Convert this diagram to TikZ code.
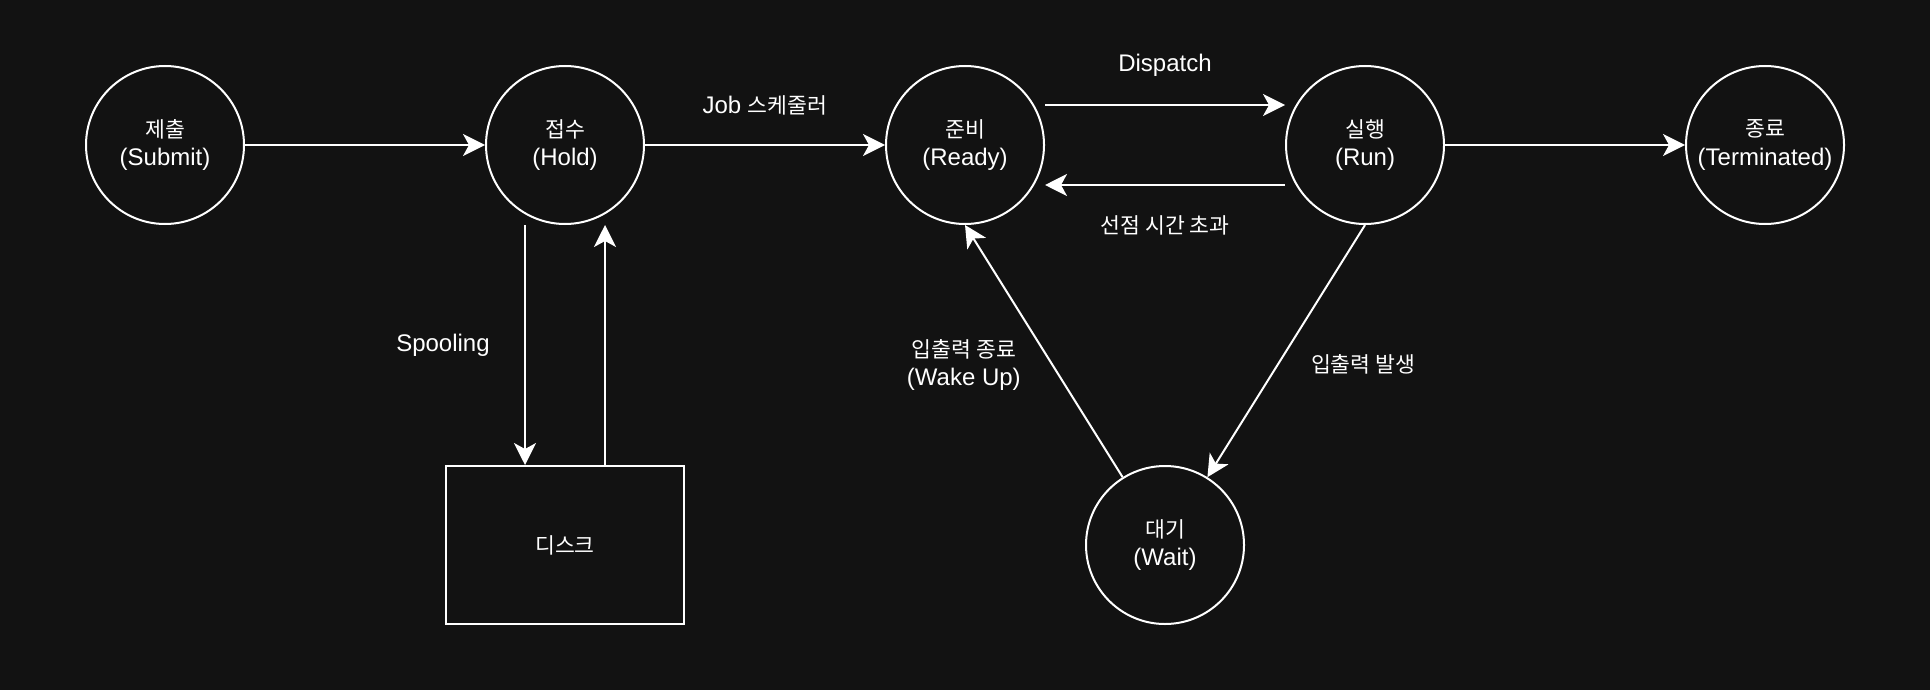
\documentclass[tikz,border=0pt]{standalone}
\usepackage{fontspec}
\setmainfont{Liberation Sans}
\newfontfamily\kr[Scale=0.9]{Noto Sans CJK KR}
\usetikzlibrary{positioning,arrows.meta}
\definecolor{bgc}{RGB}{18,18,18}
\tikzset{
  st/.style={circle,draw=white,line width=1pt,minimum size=79pt,inner sep=0pt,align=center,text=white,font=\fontsize{12}{14.4}\selectfont},
  dsk/.style={rectangle,draw=white,line width=1pt,minimum width=119pt,minimum height=79pt,inner sep=0pt,align=center,text=white,font=\fontsize{12}{14.4}\selectfont},
  flow/.style={-{Stealth[length=11pt,width=11pt,inset=3pt]},line width=1pt,white},
  lbl/.style={text=white,align=center,font=\fontsize{12}{14.4}\selectfont},
}
\begin{document}
\begin{tikzpicture}[node distance=120pt]
  \fill[bgc] (0,0) rectangle (965pt,-345pt);
  \node[st] (sub) at (82.5pt,-72.5pt) {{\kr 제출}\\(Submit)};
  \node[st,right=of sub] (hold) {{\kr 접수}\\(Hold)};
  \node[st,right=of hold] (ready) {{\kr 준비}\\(Ready)};
  \node[st,right=of ready] (run) {{\kr 실행}\\(Run)};
  \node[st,right=of run] (term) {{\kr 종료}\\(Terminated)};
  \node[dsk,below=of hold] (disk) {{\kr 디스크}};
  \node[st,below=of ready,xshift=100pt] (wait) {{\kr 대기}\\(Wait)};
  \draw[flow] (sub) -- (hold);
  \draw[flow] (hold) -- node[lbl,midway,yshift=20pt]{Job {\kr 스케줄러}} (ready);
  \draw[flow] ([yshift=20pt]ready.east) -- node[lbl,midway,yshift=20pt]{Dispatch} ([yshift=20pt]run.west);
  \draw[flow] ([yshift=-20pt]run.west) -- node[lbl,midway,yshift=-20pt]{\kr 선점 시간 초과} ([yshift=-20pt]ready.east);
  \draw[flow] (run) -- (term);
  \draw[flow] ([xshift=-20pt]hold.south) -- node[lbl,midway,xshift=-41pt]{Spooling} ([xshift=-20pt]disk.north);
  \draw[flow] ([xshift=20pt]disk.north) -- ([xshift=20pt]hold.south);
  \draw[flow] (run.south) -- node[lbl,midway,xshift=38.5pt,yshift=-6.5pt]{\kr 입출력 발생} (wait);
  \draw[flow] (wait) -- node[lbl,midway,xshift=-40pt,yshift=-7pt]{{\kr 입출력 종료}\\(Wake Up)} (ready.south);
\end{tikzpicture}
\end{document}
